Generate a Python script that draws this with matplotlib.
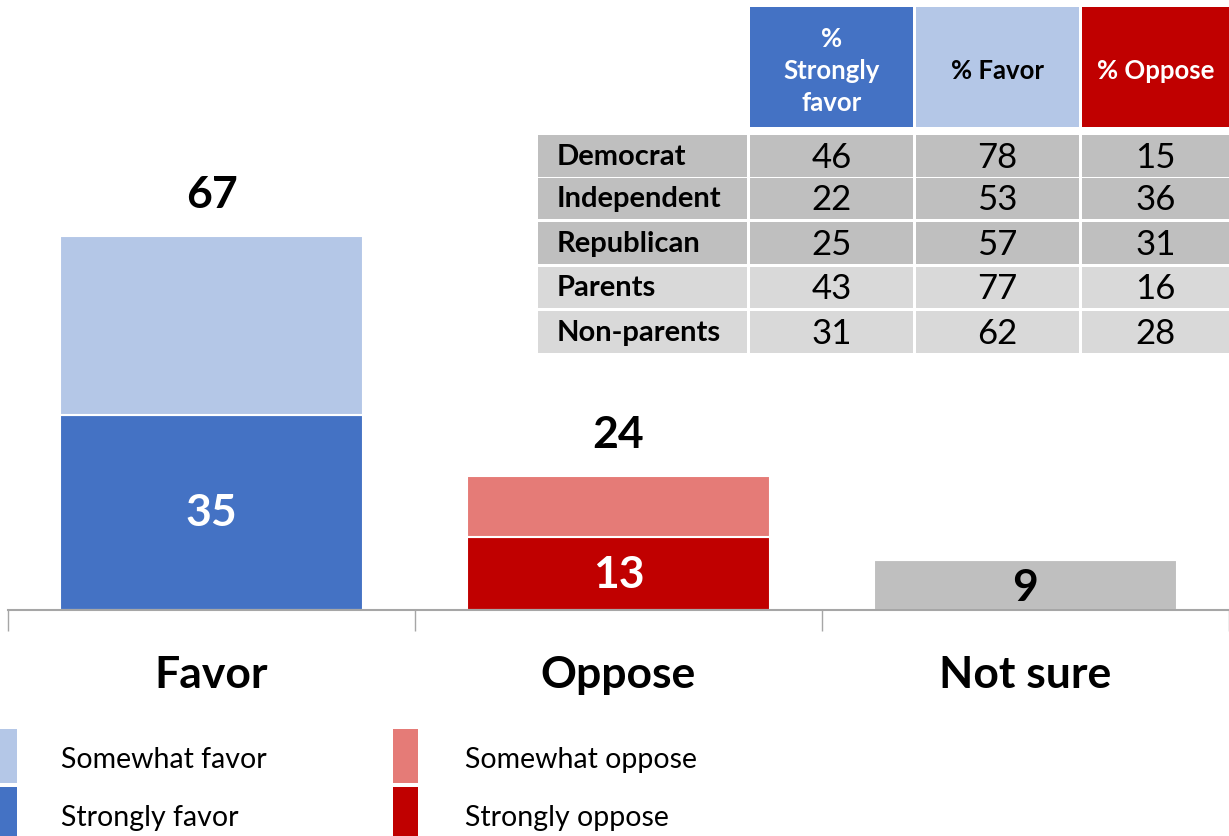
import matplotlib.pyplot as plt
from matplotlib.patches import Rectangle

plt.rcParams['font.family'] = ['Lato', 'DejaVu Sans']

# ---- data ----
categories = ['Favor', 'Oppose', 'Not sure']
strong = [35, 13, 9]
somewhat = [32, 11, 0]
totals = [67, 24, 9]

table_rows = ['Democrat', 'Independent', 'Republican', 'Parents', 'Non-parents']
table_cols = ['%\nStrongly\nfavor', '% Favor', '% Oppose']
pct_strongly_favor = [46, 22, 25, 43, 31]
pct_favor = [78, 53, 57, 77, 62]
pct_oppose = [15, 36, 31, 16, 28]

legend_labels = [['Somewhat favor', 'Strongly favor'], ['Somewhat oppose', 'Strongly oppose']]

# ---- colours ----
blue_dark, blue_light = '#4472c4', '#b4c7e7'
red_dark, red_light = '#c00000', '#e57b77'
gray = '#bfbfbf'
strong_colors = [blue_dark, red_dark, gray]
somewhat_colors = [blue_light, red_light, gray]

W, H = 1229, 837
fig = plt.figure(figsize=(W / 100, H / 100), dpi=100)

# ---- bar chart ----
ax = fig.add_axes([8 / W, (H - 611) / H, (W - 8) / W, 611 / H])
x = range(len(categories))
ax.bar(x, strong, width=0.743, color=strong_colors, edgecolor='white', linewidth=1.5, zorder=2)
ax.bar(x, somewhat, bottom=strong, width=0.743, color=somewhat_colors,
       edgecolor='white', linewidth=1.5, zorder=2)
ax.set_xlim(-0.5, 2.485)
ax.set_ylim(0, 109.5)

for i in x:
    if somewhat[i] > 0:
        ax.text(i, strong[i] / 2, str(strong[i]), ha='center', va='center',
                fontsize=32, fontweight='bold', color='white')
        ax.text(i, totals[i] + 4, str(totals[i]), ha='center', va='bottom',
                fontsize=32, fontweight='bold', color='black')
    else:
        ax.text(i, strong[i] / 2 - 0.3, str(strong[i]), ha='center', va='center',
                fontsize=32, fontweight='bold', color='black')

for s in ['top', 'right', 'left']:
    ax.spines[s].set_visible(False)
ax.spines['bottom'].set_color('#a6a6a6')
ax.spines['bottom'].set_linewidth(1.5)
ax.set_yticks([])
ax.set_xticks([-0.5, 0.5, 1.5, 2.5])
ax.set_xticklabels([])
ax.tick_params(axis='x', length=15, width=1, color='#a6a6a6')
for i, c in enumerate(categories):
    ax.text(i, -11.5, c, ha='center', va='center', fontsize=32, fontweight='bold')

# ---- overlay in pixel coordinates for table and legend ----
ov = fig.add_axes([0, 0, 1, 1])
ov.set_xlim(0, W)
ov.set_ylim(H, 0)
ov.axis('off')

col_edges = [(750, 913), (916, 1079), (1082, 1232)]
head_colors = [blue_dark, blue_light, red_dark]
head_text = ['white', 'black', 'white']
for (x0, x1), lab, fc, tc in zip(col_edges, table_cols, head_colors, head_text):
    ov.add_patch(Rectangle((x0, 8), x1 - x0, 120, facecolor=fc, edgecolor='none'))
    ov.text((x0 + min(x1, W)) / 2, 71, lab, ha='center', va='center', fontsize=18.5,
            fontweight='bold', color=tc, linespacing=1.4)

row_tops = [136, 178.5, 223, 267.5, 312]
row_h = 41.5
columns = [pct_strongly_favor, pct_favor, pct_oppose]
for r, name in enumerate(table_rows):
    y0 = row_tops[r]
    fc = '#bfbfbf' if r < 3 else '#d9d9d9'
    ov.add_patch(Rectangle((538, y0), 209, row_h, facecolor=fc, edgecolor='none'))
    ov.text(557, y0 + row_h / 2, name, ha='left', va='center', fontsize=21, fontweight='bold')
    for (x0, x1), vals in zip(col_edges, columns):
        ov.add_patch(Rectangle((x0, y0), x1 - x0, row_h, facecolor=fc, edgecolor='none'))
        ov.text((x0 + min(x1, W)) / 2, y0 + row_h / 2 + 1, str(vals[r]), ha='center',
                va='center', fontsize=25)

# ---- legend ----
legend_colors = [[blue_light, blue_dark], [red_light, red_dark]]
for gx, tx, labs, cols in zip([-8, 393], [61, 465], legend_labels, legend_colors):
    for k, (lab, c) in enumerate(zip(labs, cols)):
        y0 = 730 + k * 58
        ov.add_patch(Rectangle((gx, y0), 25, 54, facecolor=c, edgecolor='none'))
        ov.text(tx, y0 + 30, lab, ha='left', va='center', fontsize=20.5)

fig.savefig('out.png', dpi=100)
